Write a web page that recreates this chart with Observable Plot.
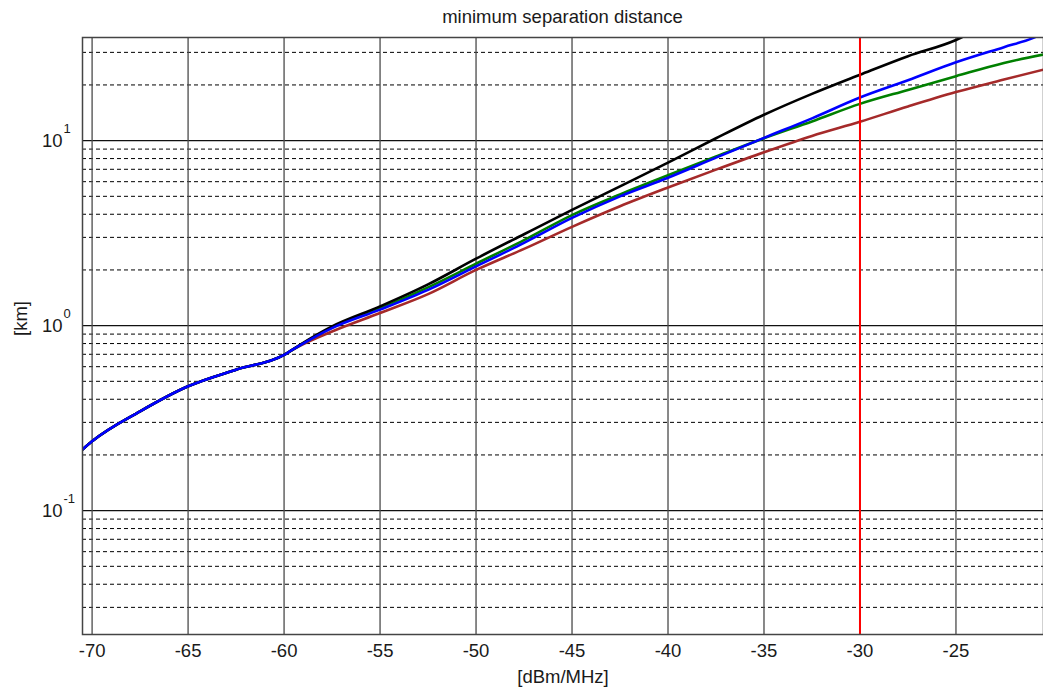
<!DOCTYPE html>
<html>
<head>
<meta charset="utf-8">
<script src="https://cdn.jsdelivr.net/npm/d3@7"></script>
<script src="https://cdn.jsdelivr.net/npm/@observablehq/plot@0.6"></script>
<style>
  body { margin: 0; background: #fff; font-family: "Liberation Sans", Arial, sans-serif; }
  #wrap { position: relative; width: 1043px; height: 689px; }
  #title { position: absolute; top: 5px; left: 82px; width: 961px; text-align: center;
           font-size: 18.5px; color: #1a1a1a; line-height: 24px; }
  #chart { position: absolute; top: 0; left: 0; }
</style>
</head>
<body>
<div id="wrap">
  <div id="chart"></div>
  <div id="title">minimum separation distance</div>
</div>
<script>
// ---- data ----
const xTicks = [-70, -65, -60, -55, -50, -45, -40, -35, -30, -25];
const yDecades = [0.1, 1, 10];
const yExponents = ["-1", "0", "1"];
const yMinor = [0.03,0.04,0.05,0.06,0.07,0.08,0.09, 0.2,0.3,0.4,0.5,0.6,0.7,0.8,0.9, 2,3,4,5,6,7,8,9, 20,30];
const markerX = [-30];

// shared part of all curves (below about -59 dBm/MHz)
const xLow  = [-70.5, -70, -67.5, -65, -62.5, -60, -59.8];
const kmLow = [0.214, 0.237, 0.344, 0.470, 0.578, 0.695, 0.715];

const xBlack  = [-59.15,-57.5,-55,-52.5,-50,-47.5,-45,-42.5,-40,-37.5,-35,-32.5,-30,-27.5,-25,-24.5];
const kmBlack = [0.79,0.99,1.27,1.67,2.30,3.12,4.22,5.66,7.6,10.3,13.8,17.9,22.7,28.6,35,37];

const xBlue  = [-59.15,-57.5,-55,-52.5,-50,-47.5,-45,-42.5,-40,-37.5,-35,-32.5,-30,-27.5,-25,-22.5,-21,-20.44];
const kmBlue = [0.785,0.97,1.22,1.56,2.09,2.80,3.82,5.0,6.3,8.09,10.35,13.2,17.1,21.2,26.5,32,35.8,38];

const xGreen  = [-59.15,-57.5,-55,-52.5,-50,-47.5,-45,-42.5,-40,-37.5,-35,-32.5,-30,-27.5,-25,-22.5,-20.44];
const kmGreen = [0.785,0.98,1.24,1.61,2.16,2.90,3.96,5.12,6.5,8.2,10.3,12.7,15.8,18.8,22.3,26.3,29.2];

const xBrown  = [-59.15,-57.5,-55,-52.5,-50,-47.5,-45,-42.5,-40,-37.5,-35,-32.5,-30,-27.5,-25,-22.5,-20.44];
const kmBrown = [0.78,0.93,1.17,1.48,2.0,2.60,3.42,4.42,5.58,6.97,8.65,10.6,12.65,15.3,18.3,21.4,24.2];

const seriesNames  = ["brown", "green", "black", "blue"];
const seriesColors = ["#a0410d", "#007a00", "#000000", "#0000ff"];
const seriesX  = [xBrown, xGreen, xBlack, xBlue];
const seriesKm = [kmBrown, kmGreen, kmBlack, kmBlue];

const rows = [];
seriesNames.forEach((name, i) => {
  xLow.forEach((x, j) => rows.push({name, x, km: kmLow[j]}));
  seriesX[i].forEach((x, j) => rows.push({name, x, km: seriesKm[i][j]}));
});

const font = "'Liberation Sans', Arial, sans-serif";

const chart = Plot.plot({
  width: 1043,
  height: 689,
  marginLeft: 82,
  marginRight: 0,
  marginTop: 37,
  marginBottom: 55,
  style: { fontFamily: font, background: "white", overflow: "visible" },
  x: { domain: [-70.5, -20.44], axis: null },
  y: { type: "log", domain: [0.0214, 36.1], axis: null },
  color: { domain: seriesNames, range: seriesColors },
  marks: [
    Plot.ruleY(yMinor, { stroke: "#000", strokeWidth: 1, strokeDasharray: "4,3" }),
    Plot.ruleY(yDecades, { stroke: "#111", strokeWidth: 1.2 }),
    Plot.ruleX(xTicks, { stroke: "#4a4a4a", strokeWidth: 1.3 }),
    Plot.line(rows, { x: "x", y: "km", z: "name", stroke: "name", strokeWidth: 2.6, clip: true, curve: "monotone-x" }),
    Plot.ruleX(markerX, { stroke: "#ff0000", strokeWidth: 2 }),
    Plot.frame({ stroke: "#444", strokeWidth: 1.5 }),
    // x tick labels
    Plot.text(xTicks, { x: d => d, frameAnchor: "bottom", dy: 17, text: d => String(d),
      fontSize: 18.5, fill: "#1a1a1a", lineAnchor: "middle" }),
    // x label
    Plot.text(["[dBm/MHz]"], { frameAnchor: "bottom", dy: 43, text: d => d,
      fontSize: 18.5, fill: "#1a1a1a", lineAnchor: "middle" }),
    // y tick labels: 10 with superscript exponent
    Plot.text(yDecades, { y: d => d, frameAnchor: "left", dx: -20, textAnchor: "end",
      text: () => "10", fontSize: 18.5, fill: "#1a1a1a", lineAnchor: "middle" }),
    Plot.text(yDecades, { y: d => d, frameAnchor: "left", dx: -19, dy: -12, textAnchor: "start",
      text: (d, i) => yExponents[i], fontSize: 13, fill: "#1a1a1a", lineAnchor: "middle" }),
    // y label
    Plot.text(["[km]"], { frameAnchor: "left", dx: -61, rotate: -90, text: d => d,
      fontSize: 18.5, fill: "#1a1a1a", lineAnchor: "middle" })
  ]
});
document.getElementById("chart").appendChild(chart);
</script>
</body>
</html>
